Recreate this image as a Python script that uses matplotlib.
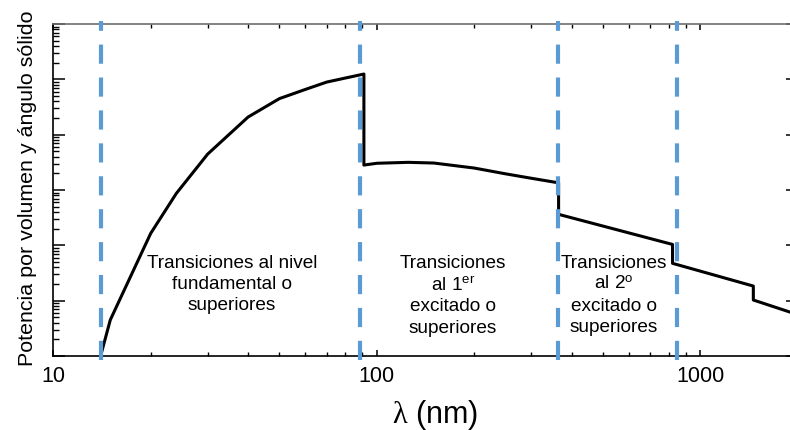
import matplotlib
matplotlib.use("Agg")
import matplotlib.pyplot as plt
from matplotlib.ticker import LogLocator, NullFormatter

plt.rcParams['font.family'] = ['Liberation Sans', 'DejaVu Sans']
plt.rcParams['mathtext.fontset'] = 'custom'
plt.rcParams['mathtext.rm'] = 'Liberation Sans'
plt.rcParams['mathtext.it'] = 'Liberation Serif'

# emission spectrum (arbitrary units), vertical drops at the series limits
wavelength = [14, 15, 17.5, 20, 24, 30, 40, 50, 60, 70, 80, 91.2,
              91.2, 100, 125, 150, 200, 250, 300, 364.6,
              364.6, 820.4,
              820.4, 1458,
              1458, 2000]
power = [1, 4.5, 31, 165, 870, 4470, 20900, 45000, 65600, 89500, 106000, 125000,
         2830, 3050, 3170, 3080, 2500, 1965, 1635, 1350,
         364, 104,
         47.4, 18.4,
         10.3, 5.6]

# region boundaries (nm)
boundaries = [14, 89, 362, 849]

region_x = [35.7, 172, 541]
region_labels = ['Transiciones al nivel\nfundamental o\nsuperiores',
                 'Transiciones\nal 1$^{\\mathrm{er}}$\nexcitado o\nsuperiores',
                 'Transiciones\nal 2$^{\\mathrm{o}}$\nexcitado o\nsuperiores']

xticks = [10, 100, 1000]
xticklabels = ['10', '100', '1000']

fig = plt.figure(figsize=(7.9, 4.3), dpi=100)
ax = fig.add_axes([0.0675, 0.172, 0.9423, 0.772])

ax.plot(wavelength, power, color='black', linewidth=2.2, zorder=3)

for b in boundaries:
    ax.axvline(b, ymin=-0.012, ymax=1.01, color='#5b9bd5', linewidth=3.0,
               dashes=(4.6, 3.3), clip_on=False, zorder=4)

for x, label in zip(region_x, region_labels):
    ax.text(x, 0.305, label, transform=ax.get_xaxis_transform(),
            ha='center', va='top', fontsize=13.7, linespacing=1.32, zorder=5)

ax.set_xscale('log')
ax.set_yscale('log')
ax.set_xlim(10, 2000)
ax.set_ylim(1, 1e6)

ax.set_xticks(xticks)
ax.set_xticklabels(xticklabels)
ax.xaxis.set_minor_formatter(NullFormatter())
ax.yaxis.set_major_locator(LogLocator(base=10, numticks=10))
ax.yaxis.set_minor_locator(LogLocator(base=10, subs=range(2, 10), numticks=10))
ax.yaxis.set_major_formatter(NullFormatter())
ax.yaxis.set_minor_formatter(NullFormatter())

ax.tick_params(axis='x', which='major', direction='in', top=True, length=4,
               width=1.1, labelsize=15.5, pad=7)
ax.tick_params(axis='x', which='minor', direction='in', top=True, length=3, width=1.0)
ax.tick_params(axis='y', which='major', direction='in', right=True, length=8.5, width=1.1)
ax.tick_params(axis='y', which='minor', direction='in', right=True, length=4.5, width=1.0)

for side in ['left', 'bottom', 'right']:
    ax.spines[side].set_linewidth(1.2)
    ax.spines[side].set_color('black')
ax.spines['top'].set_linewidth(1.2)
ax.spines['top'].set_color('#6e6e6e')

ax.set_xlabel('$\\lambda$ (nm)', fontsize=22)
ax.xaxis.set_label_coords(0.513, -0.125)
ax.set_ylabel('Potencia por volumen y ángulo sólido', fontsize=15.4)
ax.yaxis.set_label_coords(-0.022, 0.506)

fig.savefig('out.png', dpi=100)
